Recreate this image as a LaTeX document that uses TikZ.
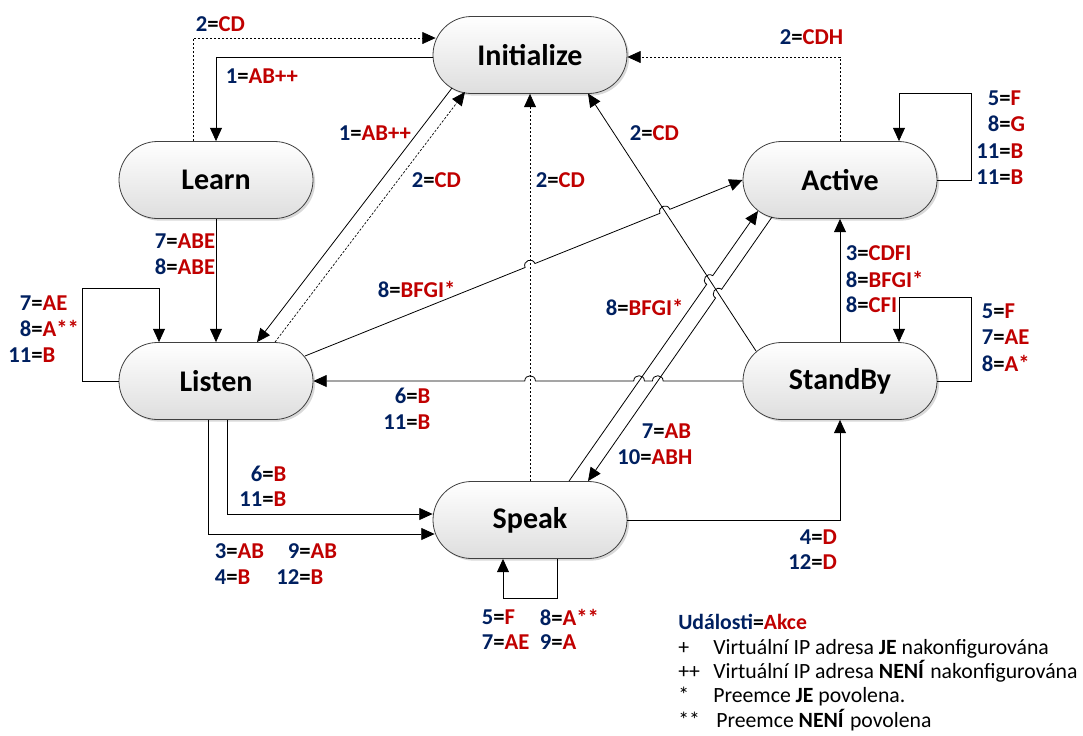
\documentclass[tikz,border=0pt]{standalone}
\usepackage{fontspec}
\setmainfont{Carlito}
\usetikzlibrary{shapes.misc,arrows.meta,calc,shadows}
\definecolor{evblue}{HTML}{002060}
\definecolor{acred}{HTML}{C00000}
% event=action label, centred on the "=" sign
\newcommand{\ev}[2]{\llap{\textcolor{evblue}{#1}}=\rlap{\textcolor{acred}{#2}}}
\newcommand{\hr}{4pt}
\begin{document}
\begin{tikzpicture}[x=0.75pt,y=-0.75pt,
  state/.style={rounded rectangle, draw=black!75, line width=0.6pt,
    minimum width=145.5pt, minimum height=57.75pt, inner sep=0pt,
    top color=white, bottom color=black!13,
    drop shadow={shadow xshift=1.6pt, shadow yshift=-1.6pt, opacity=0.25, fill=black!60},
    font=\bfseries\fontsize{22.5}{26}\selectfont},
  ln/.style={line width=0.6pt, draw=black},
  dsh/.style={line width=0.5pt, draw=black, dash pattern=on 1.8pt off 1.2pt},
  arr/.style={-{Triangle[length=10pt,width=9pt]}},
  hopL/.style={bend left=90, looseness=1.7},
  hopR/.style={bend right=90, looseness=1.7},
  lab/.style={inner sep=0pt, font=\bfseries\fontsize{17}{20}\selectfont},
  leg/.style={inner sep=0pt, anchor=base west, font=\fontsize{16.3}{19}\selectfont}]
\path[use as bounding box] (0,0) rectangle (1083,736);

% states
\node[state] (Init)    at (530,55)  {Initialize};
\node[state] (Learn)   at (216,180) {Learn};
\node[state] (Active)  at (840,180) {Active};
\node[state] (Listen)  at (216,381) {Listen};
\node[state] (StandBy) at (840,381) {StandBy};
\node[state] (Speak)   at (530,520) {Speak};

% connector end points on the state borders
\coordinate (iL1) at ($(Init)+(-78,33)$);
\coordinate (lI1) at ($(Listen.north)+(41,0)$);
\coordinate (lI2) at ($(Listen.north)+(59,0)$);
\coordinate (iL2) at ($(Init)+(-65,37)$);
\coordinate (sI1) at ($(StandBy)+(-84,-30)$);
\coordinate (iS1) at ($(Init)+(58,38.5)$);
\coordinate (lA1) at ($(Listen)+(89,-25)$);
\coordinate (sA1) at ($(Speak.north)+(39,0)$);
\coordinate (sA2) at ($(Active)+(-82,31)$);
\coordinate (aS1) at ($(Active)+(-68,37)$);
\coordinate (aS2) at ($(Speak.north)+(58,0)$);

% line jumps
\coordinate (h1) at (intersection of lA1--Active.west and Init.south--Speak.north);
\coordinate (h2) at (intersection of lA1--Active.west and sI1--iS1);
\coordinate (h3) at (intersection of StandBy.west--Listen.east and aS1--aS2);
\coordinate (h4) at (intersection of StandBy.west--Listen.east and sA1--sA2);
\coordinate (h5) at (intersection of StandBy.west--Listen.east and Init.south--Speak.north);
\coordinate (h6) at (intersection of sA1--sA2 and sI1--iS1);
\coordinate (h7) at (intersection of aS1--aS2 and sI1--iS1);

% transitions into Initialize
\draw[dsh,arr] ($(Learn.north)+(-23,0)$) |- ($(Init.west)+(3,-17)$);
\draw[dsh,arr] (Active.north) |- ($(Init.east)+(0,2)$);
\draw[dsh,arr] (Speak.north) -- (Init.south);
\draw[ln,arr] (sI1) -- (iS1);
\draw[dsh,arr] (lI2) -- (iL2);

% transitions out of Initialize
\draw[ln,arr] ($(Init.west)+(0,2)$) -| (Learn.north);
\draw[ln,arr] (iL1) -- (lI1);

% Learn / Listen
\draw[ln,arr] (Learn.south) -- (Listen.north);
\draw[ln,arr] (Listen.west) -- ++(-36,0) -- ++(0,-93) -| ($(Listen.north)+(-57,0)$);
\draw[ln,arr] ($(Listen.south)+(11,0)$) |- ($(Speak.west)+(0,-6)$);
\draw[ln,arr] ($(Listen.south)+(-8,0)$) |- ($(Speak.west)+(2,14)$);
\draw[ln,arr] (lA1) -- ($(h1)!\hr!(lA1)$) to[hopL] ($(h1)!\hr!(Active.west)$)
  -- ($(h2)!\hr!(lA1)$) to[hopL] ($(h2)!\hr!(Active.west)$) -- (Active.west);

% Active / StandBy
\draw[ln,arr] (Active.east) -- ++(34,0) -- ++(0,-87) -| ($(Active.north)+(59,0)$);
\draw[ln,arr] (StandBy.east) -- ++(34,0) -- ++(0,-84) -| ($(StandBy.north)+(59,0)$);
\draw[ln,arr] (StandBy.north) -- (Active.south);
\draw[ln,arr] (StandBy.west) -- ($(h3)!\hr!(StandBy.west)$) to[hopR] ($(h3)!\hr!(Listen.east)$)
  -- ($(h4)!\hr!(StandBy.west)$) to[hopR] ($(h4)!\hr!(Listen.east)$)
  -- ($(h5)!\hr!(StandBy.west)$) to[hopR] ($(h5)!\hr!(Listen.east)$) -- (Listen.east);

% Speak
\draw[ln,arr] (sA1) -- ($(h6)!\hr!(sA1)$) to[hopL] ($(h6)!\hr!(sA2)$) -- (sA2);
\draw[ln,arr] (aS1) -- ($(h7)!\hr!(aS1)$) to[hopR] ($(h7)!\hr!(aS2)$) -- (aS2);
\draw[ln,arr] (Speak.east) -| (StandBy.south);
\draw[ln,arr] ($(Speak.south)+(27,0)$) -- ++(0,39) -| ($(Speak.south)+(-27,0)$);

% transition labels
\node[lab] (t1)  at (213,24)  {\ev{2}{CD}};
\node[lab] (t2)  at (243,76)  {\ev{1}{AB++}};
\node[lab] (t3)  at (356,133) {\ev{1}{AB++}};
\node[lab] (t4)  at (429,180) {\ev{2}{CD}};
\node[lab] (t5)  at (553,180) {\ev{2}{CD}};
\node[lab] (t6)  at (647,133) {\ev{2}{CD}};
\node[lab] (t7)  at (797,37)  {\ev{2}{CDH}};
\node[lab] (t8)  at (1005,98)  {\ev{5}{F}};
\node[lab] (t9)  at (1005,124) {\ev{8}{G}};
\node[lab] (t10) at (1005,151) {\ev{11}{B}};
\node[lab] (t11) at (1005,177) {\ev{11}{B}};
\node[lab] (t12) at (863,253) {\ev{3}{CDFI}};
\node[lab] (t13) at (863,279) {\ev{8}{BFGI*}};
\node[lab] (t14) at (863,305) {\ev{8}{CFI}};
\node[lab] (t15) at (999,311) {\ev{5}{F}};
\node[lab] (t16) at (999,337) {\ev{7}{AE}};
\node[lab] (t17) at (999,363) {\ev{8}{A*}};
\node[lab] (t18) at (172,241) {\ev{7}{ABE}};
\node[lab] (t19) at (172,267) {\ev{8}{ABE}};
\node[lab] (t20) at (37,303)  {\ev{7}{AE}};
\node[lab] (t21) at (37,328)  {\ev{8}{A**}};
\node[lab] (t22) at (37,355)  {\ev{11}{B}};
\node[lab] (t23) at (395,289) {\ev{8}{BFGI*}};
\node[lab] (t24) at (412,396) {\ev{6}{B}};
\node[lab] (t25) at (412,422) {\ev{11}{B}};
\node[lab] (t26) at (623,307) {\ev{8}{BFGI*}};
\node[lab] (t27) at (659,431) {\ev{7}{AB}};
\node[lab] (t28) at (646,457) {\ev{10}{ABH}};
\node[lab] (t29) at (268,474) {\ev{6}{B}};
\node[lab] (t30) at (268,499) {\ev{11}{B}};
\node[lab] (t31) at (232,551) {\ev{3}{AB}};
\node[lab] (t32) at (232,577) {\ev{4}{B}};
\node[lab] (t33) at (305,551) {\ev{9}{AB}};
\node[lab] (t34) at (305,577) {\ev{12}{B}};
\node[lab] (t35) at (817,537) {\ev{4}{D}};
\node[lab] (t36) at (817,562) {\ev{12}{D}};
\node[lab] (t37) at (499,617) {\ev{5}{F}};
\node[lab] (t38) at (499,642) {\ev{7}{AE}};
\node[lab] (t39) at (557,617) {\ev{8}{A**}};
\node[lab] (t40) at (557,642) {\ev{9}{A}};

% legend
\node[leg] (lg0)  at (678,629) {\bfseries\textcolor{evblue}{Události}=\textcolor{acred}{Akce}};
\node[leg] (lg1s) at (678,654) {+};
\node[leg] (lg1t) at (713,654) {Virtuální IP adresa \textbf{JE} nakonfigurována};
\node[leg] (lg2s) at (678,678) {++};
\node[leg] (lg2t) at (713,678) {Virtuální IP adresa \textbf{NENÍ} nakonfigurována};
\node[leg] (lg3s) at (678,702) {*};
\node[leg] (lg3t) at (713,702) {Preemce \textbf{JE} povolena.};
\node[leg] (lg4s) at (678,727) {**};
\node[leg] (lg4t) at (716,727) {Preemce \textbf{NENÍ} povolena};
\end{tikzpicture}
\end{document}
